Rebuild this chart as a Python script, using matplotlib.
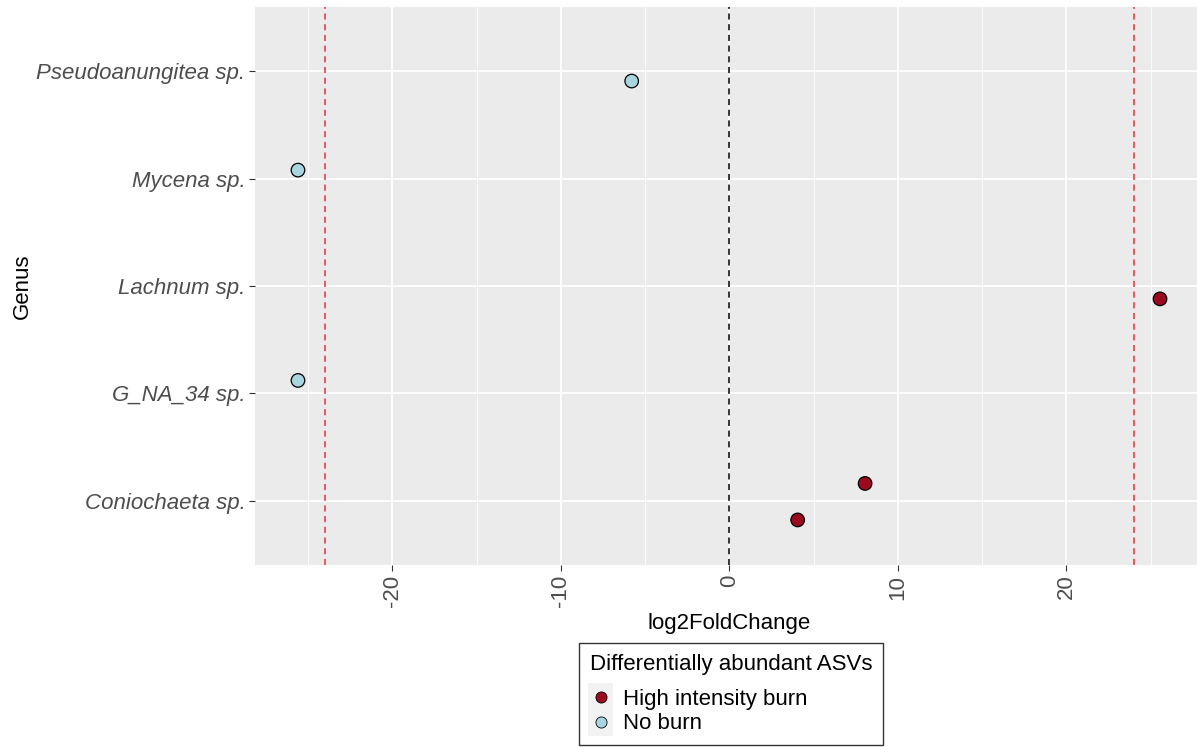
import matplotlib
matplotlib.use('AGG')

import matplotlib.pyplot as plt
from matplotlib.legend_handler import HandlerBase
from matplotlib.lines import Line2D
from matplotlib.patches import Rectangle

# categories (bottom to top) and points
genera = ['Coniochaeta sp.', 'G_NA_34 sp.', 'Lachnum sp.', 'Mycena sp.', 'Pseudoanungitea sp.']
pt_genus = ['Pseudoanungitea sp.', 'Mycena sp.', 'Lachnum sp.', 'G_NA_34 sp.',
            'Coniochaeta sp.', 'Coniochaeta sp.']
pt_lfc = [-5.8, -25.6, 25.55, -25.6, 8.05, 4.05]
pt_jitter = [-0.09, 0.08, -0.12, 0.12, 0.16, -0.18]
pt_group = ['No burn', 'No burn', 'High intensity burn', 'No burn',
            'High intensity burn', 'High intensity burn']
groups = ['High intensity burn', 'No burn']
group_colors = {'High intensity burn': '#9B0A1E', 'No burn': '#A8D5E0'}
thresholds = [-24, 24]


class KeyHandler(HandlerBase):
    # ggplot-like key: grey square behind the point
    def create_artists(self, legend, orig_handle, xdescent, ydescent,
                       width, height, fontsize, trans):
        pad = 5.0
        r = Rectangle((-xdescent - 1, -ydescent - pad), width + 2, height + 2 * pad,
                      facecolor='#F2F2F2', edgecolor='none', transform=trans)
        m = Line2D([width / 2 - xdescent], [height / 2 - ydescent], marker='o',
                   linestyle='none', markersize=8,
                   markerfacecolor=orig_handle.get_markerfacecolor(),
                   markeredgecolor='black', markeredgewidth=0.6,
                   transform=trans)
        return [r, m]


W, H = 1197, 747
plt.rcParams['font.family'] = ['Liberation Sans', 'DejaVu Sans']
plt.rcParams['axes.unicode_minus'] = False
fig = plt.figure(figsize=(W / 100, H / 100), dpi=100)

ax = fig.add_axes([255 / W, 1 - 565 / H, (1203 - 255) / W, (565 - 7) / H])
ax.set_facecolor('#EBEBEB')
for s in ax.spines.values():
    s.set_visible(False)

ax.set_xlim(-28.15, 28.1)
ax.set_ylim(-0.6, len(genera) - 0.4)

ax.set_xticks([-20, -10, 0, 10, 20])
ax.set_xticks([-25, -15, -5, 5, 15, 25], minor=True)
ax.set_yticks(range(len(genera)))
ax.set_yticklabels(genera, fontstyle='italic')
ax.grid(True, which='major', color='white', linewidth=1.3)
ax.grid(True, which='minor', axis='x', color='white', linewidth=0.6)
ax.set_axisbelow(True)
ax.tick_params(axis='both', which='major', length=4, color='#333333',
               labelcolor='#4D4D4D', labelsize=16, pad=3)
ax.tick_params(axis='both', which='minor', length=0)
ax.tick_params(axis='x', labelrotation=90)

ax.axvline(0, color='black', linestyle=(0, (4, 3)), linewidth=1.1)
for t in thresholds:
    ax.axvline(t, color='#E8303A', linestyle=(0, (4, 3)), linewidth=1.1)

ypos = [genera.index(g) + j for g, j in zip(pt_genus, pt_jitter)]
cols = [group_colors[g] for g in pt_group]
ax.scatter(pt_lfc, ypos, s=95, c=cols, edgecolors='black', linewidths=0.9, zorder=3)

ax.set_xlabel('log2FoldChange', fontsize=16, labelpad=4)
ax.set_ylabel('Genus', fontsize=16)
ax.yaxis.set_label_coords((33 - 255) / (1203 - 255), 0.5)

handles = [Line2D([], [], marker='o', linestyle='none',
                  markerfacecolor=group_colors[g]) for g in groups]
leg = fig.legend(handles, groups, title='Differentially abundant ASVs',
                 loc='upper center', bbox_to_anchor=(731 / W, 1 - 643 / H),
                 borderaxespad=0,
                 fontsize=16, title_fontsize=16, frameon=True, fancybox=False,
                 edgecolor='black', handletextpad=0.5, handlelength=1.0,
                 labelspacing=0.15, borderpad=0.5, alignment='left',
                 handler_map={Line2D: KeyHandler()})
leg.get_frame().set_linewidth(1.0)
leg._legend_box.sep = 10

fig.savefig('out.png', dpi=100)
